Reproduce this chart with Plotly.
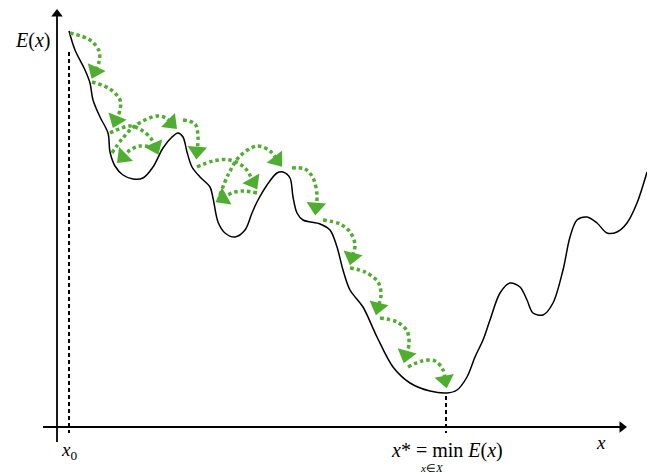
import math
import plotly.graph_objects as go

# Energy landscape E(x) (pixel-like units)
curve_x = [69, 75, 85, 90, 93, 100, 108, 110, 115, 123, 133, 143, 153, 163, 172, 178, 183, 187, 192, 200, 210,
           213, 218, 225, 235, 245, 252, 258, 267, 277, 283, 290, 293, 297, 303, 320, 330, 337, 343, 350, 363,
           377, 393, 410, 430, 447, 457, 467, 475, 483, 490, 500, 510, 520, 527, 533, 543, 553, 563, 570, 577,
           587, 597, 607, 617, 627, 637, 647]
curve_y = [31, 50, 70, 83, 100, 117, 133, 152, 166, 175, 179, 178, 167, 148, 137, 133, 137, 152, 167, 177, 187,
           198, 222, 233, 237, 230, 213, 200, 185, 173, 172, 178, 197, 213, 220, 224, 230, 247, 270, 290, 307,
           337, 367, 383, 391, 393, 390, 377, 357, 340, 320, 293, 283, 287, 300, 313, 315, 303, 270, 237, 220,
           217, 223, 233, 232, 223, 203, 172]

# Search steps (dotted green arrows); last point of each = arrowhead
steps = [
    [(70, 33), (90, 40), (99, 51), (99, 62), (95, 71)],
    [(92, 82), (110, 89), (120, 100), (120, 110), (116, 120)],
    [(110, 133), (130, 126), (143, 131), (152, 140), (155, 147)],
    [(112, 153), (122, 139), (136, 125), (157, 116), (166, 118), (171, 123)],
    [(155, 148), (140, 146), (130, 150), (123, 157)],
    [(183, 120), (195, 124), (198, 137), (197, 151)],
    [(197, 167), (213, 161), (230, 160), (245, 168), (253, 182)],
    [(220, 195), (228, 175), (240, 156), (257, 146), (270, 151), (277, 160)],
    [(257, 193), (243, 191), (232, 193), (223, 198)],
    [(292, 168), (305, 169), (313, 178), (317, 195), (316, 207)],
    [(323, 220), (340, 224), (350, 232), (355, 245), (352, 257)],
    [(350, 268), (365, 272), (378, 282), (381, 295), (378, 307)],
    [(380, 318), (397, 322), (407, 331), (409, 344), (406, 355)],
    [(408, 367), (422, 361), (435, 361), (443, 370), (445, 380)],
]

x0_pos = 69
xstar_pos = 446

GREEN = "#4fae30"

fig = go.Figure()

# axes
fig.add_trace(go.Scatter(x=[57, 57], y=[442, 16], mode="lines",
                         line=dict(color="black", width=1.8), hoverinfo="skip"))
fig.add_trace(go.Scatter(x=[57], y=[14], mode="markers",
                         marker=dict(symbol="triangle-up", size=10, color="black"), hoverinfo="skip"))
fig.add_trace(go.Scatter(x=[43, 620], y=[427, 427], mode="lines",
                         line=dict(color="black", width=1.8), hoverinfo="skip"))
fig.add_trace(go.Scatter(x=[622], y=[427], mode="markers",
                         marker=dict(symbol="triangle-right", size=10, color="black"), hoverinfo="skip"))

# dashed guides
fig.add_trace(go.Scatter(x=[x0_pos, x0_pos], y=[52, 433], mode="lines",
                         line=dict(color="black", width=2, dash="4px,3px"), hoverinfo="skip"))
fig.add_trace(go.Scatter(x=[xstar_pos, xstar_pos], y=[396, 433], mode="lines",
                         line=dict(color="black", width=2, dash="4px,3px"), hoverinfo="skip"))

# curve
fig.add_trace(go.Scatter(x=curve_x, y=curve_y, mode="lines",
                         line=dict(color="black", width=1.5, shape="spline", smoothing=0.9),
                         hoverinfo="skip"))

# arrows
for path in steps:
    xs = [p[0] for p in path]
    ys = [p[1] for p in path]
    fig.add_trace(go.Scatter(x=xs, y=ys, mode="lines",
                             line=dict(color=GREEN, width=3.5, dash="3.5px,3px", shape="spline"),
                             hoverinfo="skip"))
    dx = xs[-1] - xs[-2]
    dy = ys[-1] - ys[-2]
    ang = math.degrees(math.atan2(dx, -dy))
    fig.add_trace(go.Scatter(x=[xs[-1]], y=[ys[-1]], mode="markers",
                             marker=dict(symbol="triangle-up", size=17, color=GREEN, angle=ang,
                                         line=dict(width=0)),
                             hoverinfo="skip"))

FONT = "Liberation Serif"
fig.add_annotation(x=32, y=40, text="<i>E</i>(<i>x</i>)", showarrow=False,
                   font=dict(family=FONT, size=20, color="black"))
fig.add_annotation(x=69, y=451, text="<i>x</i><sub>0</sub>", showarrow=False,
                   font=dict(family=FONT, size=19, color="black"))
fig.add_annotation(x=601, y=442, text="<i>x</i>", showarrow=False,
                   font=dict(family=FONT, size=19, color="black"))
fig.add_annotation(x=447, y=450, text="<i>x</i>* = min <i>E</i>(<i>x</i>)", showarrow=False,
                   font=dict(family=FONT, size=20, color="black"))
fig.add_annotation(x=432, y=468, text="<i>x</i>∈<i>X</i>", showarrow=False,
                   font=dict(family=FONT, size=11, color="black"))

fig.update_layout(width=647, height=474, margin=dict(l=0, r=0, t=0, b=0),
                  plot_bgcolor="white", paper_bgcolor="white", showlegend=False,
                  xaxis=dict(range=[0, 647], visible=False, fixedrange=True),
                  yaxis=dict(range=[474, 0], visible=False, fixedrange=True))

fig.write_html("out.html", config={"displayModeBar": False},
               post_script="document.body.style.margin='0';document.body.style.overflow='hidden';")
